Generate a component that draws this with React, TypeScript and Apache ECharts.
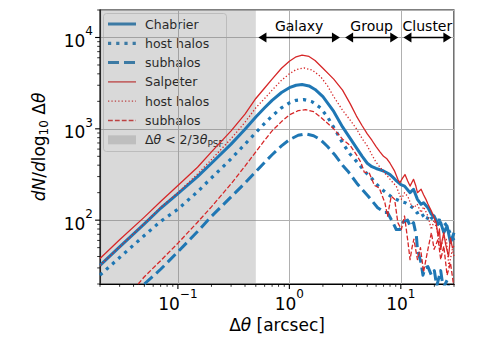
import React, { useEffect, useRef } from 'react';
import * as echarts from 'echarts';

// ---------- data (theta [arcsec], dN/dlog10 dtheta) ----------
const chabrierTotal: [number, number][] = [
  [0.02, 32], [0.03, 51], [0.05, 91], [0.07, 135], [0.1, 195], [0.15, 300], [0.2, 420], [0.3, 680],
  [0.4, 990], [0.5, 1350], [0.6, 1700], [0.7, 2050], [0.85, 2500], [1.0, 2820], [1.15, 3000], [1.3, 3050],
  [1.5, 2950], [1.7, 2700], [2.0, 2250], [2.5, 1550], [3.0, 1050], [3.5, 790], [4.0, 620], [4.5, 500],
  [5.0, 420], [5.5, 385], [6.0, 368], [6.5, 356], [7.0, 345], [7.5, 330], [8.0, 315], [8.6, 290],
  [9.2, 267], [10.0, 245], [10.8, 236], [11.5, 215], [12.1, 200], [13.0, 218], [14.1, 169], [15.2, 149],
  [16.0, 155], [17.5, 137], [18.8, 116], [19.9, 111], [21.6, 90], [22.8, 94], [24.3, 73], [26.0, 86],
  [27.9, 57], [30, 73],
];
const chabrierHost: [number, number][] = [
  [0.02, 25], [0.03, 39], [0.05, 68], [0.07, 97], [0.1, 132], [0.15, 205], [0.2, 290], [0.3, 470],
  [0.4, 680], [0.5, 910], [0.6, 1150], [0.7, 1380], [0.85, 1700], [1.0, 1920], [1.15, 2050], [1.35, 2090],
  [1.6, 1980], [1.9, 1700], [2.2, 1350], [2.6, 960], [3.0, 700], [3.5, 530], [4.0, 440], [4.5, 370],
  [5.0, 320], [5.5, 285], [6.0, 250], [7.0, 210], [8.0, 185], [9.0, 170], [10.0, 160], [11.0, 155],
  [12.0, 145], [13.0, 135], [14.0, 120], [15.0, 125], [16.0, 110], [17.0, 100], [18.0, 115], [19.0, 105],
  [20.0, 100], [22.0, 100], [24.0, 98], [26.0, 85], [28.0, 70], [30, 60],
];
const chabrierSub: [number, number][] = [
  [0.05, 20], [0.07, 29], [0.1, 45], [0.15, 75], [0.2, 110], [0.3, 180], [0.4, 255], [0.5, 340],
  [0.6, 430], [0.7, 520], [0.85, 650], [1.0, 760], [1.2, 850], [1.4, 882], [1.65, 840], [1.9, 760],
  [2.2, 640], [2.54, 524], [3.0, 400], [3.35, 344], [4.1, 247], [5.1, 183], [6.2, 137], [7.17, 121],
  [7.6, 121], [8.5, 94], [9.1, 79], [9.8, 79], [10.5, 95], [11.5, 100], [12.2, 85], [13.0, 94],
  [13.8, 67], [14.1, 48], [15.2, 34], [15.8, 25], [16.5, 30], [17.5, 31], [18.8, 25], [20.0, 28],
  [21.0, 19], [22.8, 28], [24.0, 18], [26.0, 22], [28.0, 15], [30, 17],
];
const salpeterTotal: [number, number][] = [
  [0.02, 38], [0.03, 61], [0.05, 108], [0.07, 160], [0.1, 240], [0.15, 380], [0.2, 560], [0.3, 950],
  [0.4, 1450], [0.5, 2150], [0.6, 2800], [0.7, 3500], [0.85, 4600], [1.0, 5500], [1.15, 6150], [1.3, 6400],
  [1.5, 6200], [1.7, 5600], [2.0, 4600], [2.5, 3500], [3.0, 2650], [3.5, 1900], [4.0, 1380], [4.5, 1080],
  [5.0, 880], [5.5, 750], [6.0, 640], [6.5, 560], [7.0, 500], [7.5, 470], [8.0, 420], [8.8, 344],
  [9.4, 280], [9.8, 257], [10.4, 290], [10.9, 316], [11.5, 270], [12.1, 236], [13.0, 280], [13.6, 240],
  [14.1, 200], [15.2, 218], [16.0, 190], [16.8, 169], [17.5, 150], [18.8, 126], [19.9, 106], [20.7, 95],
  [21.6, 67], [22.2, 80], [22.8, 48], [23.5, 60], [24.3, 73], [25.2, 55], [26.8, 40], [27.9, 64],
  [29.0, 50], [30, 52],
];
const salpeterHost: [number, number][] = [
  [0.02, 32], [0.03, 51], [0.05, 92], [0.07, 138], [0.1, 200], [0.15, 320], [0.2, 460], [0.3, 780],
  [0.4, 1180], [0.5, 1700], [0.6, 2150], [0.7, 2650], [0.85, 3400], [1.0, 4000], [1.15, 4450], [1.35, 4640],
  [1.6, 4400], [1.9, 3750], [2.2, 2950], [2.5, 2250], [3.0, 1600], [3.5, 1250], [4.0, 1000], [4.5, 780],
  [5.0, 650], [5.5, 520], [6.0, 430], [7.0, 340], [7.6, 303], [8.2, 270], [9.1, 236], [10.1, 169],
  [10.8, 200], [11.6, 180], [12.3, 150], [13.1, 137], [14.0, 150], [15.2, 121], [16.0, 140], [17.5, 111],
  [18.8, 79], [19.9, 100], [21.0, 80], [22.8, 48], [24.0, 65], [25.6, 62], [27.0, 31], [29.0, 48], [30, 40],
];
const salpeterSub: [number, number][] = [
  [0.044, 20], [0.05, 24], [0.07, 36], [0.1, 56], [0.15, 95], [0.2, 140], [0.3, 250], [0.4, 390],
  [0.5, 560], [0.6, 750], [0.7, 950], [0.85, 1200], [1.0, 1420], [1.2, 1580], [1.4, 1625], [1.65, 1540],
  [1.9, 1350], [2.2, 1150], [2.5, 1000], [3.0, 770], [3.5, 660], [4.0, 520], [4.4, 425], [4.7, 335],
  [5.2, 330], [5.8, 240], [6.4, 225], [7.2, 155], [7.6, 111], [8.2, 183], [8.8, 169], [9.4, 94],
  [10.1, 79], [10.8, 111], [11.6, 57], [12.1, 37], [12.6, 50], [13.1, 62], [14.1, 37], [15.0, 50],
  [16.0, 27], [17.5, 48], [18.8, 73], [19.9, 48], [21.6, 62], [22.8, 37], [24.3, 52], [26.0, 25],
  [27.9, 34], [30, 18],
];

// shaded PSF region and the scale annotations
const psfRegion: [number, number] = [0.02, 0.5];
const regionNames = ['Galaxy', 'Group', 'Cluster'];
const regionFrom = [0.5, 3, 10];
const regionTo = [3, 10, 30];
const regionLevel = 10000;

const legendLabels = ['Chabrier', 'host halos', 'subhalos', 'Salpeter', 'host halos', 'subhalos'];

const X_MIN = 0.02;
const X_MAX = 30;
const Y_MIN = 20;
const Y_MAX = 20000;

const FONT = 'DejaVu Sans';
const BLUE = '#1f77b4';
const RED = '#d62728';

function logTicks(min: number, max: number): number[] {
  const out: number[] = [];
  for (let e = Math.floor(Math.log10(min)); e <= Math.ceil(Math.log10(max)); e++) {
    for (let k = 1; k <= 9; k++) {
      const v = k * Math.pow(10, e);
      if (v >= min * 0.9999 && v <= max * 1.0001) out.push(v);
    }
  }
  return out;
}
const isMajor = (v: number) => Math.abs(Math.log10(v) - Math.round(Math.log10(v))) < 1e-6;

const supRich = {
  b: { fontSize: 17, lineHeight: 24, verticalAlign: 'bottom', fontFamily: FONT, color: '#000' },
  e: { fontSize: 12, lineHeight: 12, verticalAlign: 'top', fontFamily: FONT, color: '#000' },
};
const tickFormatter = (v: number) => {
  if (!isMajor(v)) return '';
  const e = Math.round(Math.log10(v));
  return `{b|10}{e|${e < 0 ? '\u2212' + -e : e}}`;
};

const seriesStyles = [
  { name: 'Chabrier', data: chabrierTotal, color: BLUE, width: 3, type: 'solid' as any },
  { name: 'Chabrier host', data: chabrierHost, color: BLUE, width: 3.2, type: [3.2, 5] as any },
  { name: 'Chabrier sub', data: chabrierSub, color: BLUE, width: 3, type: [11, 5] as any },
  { name: 'Salpeter', data: salpeterTotal, color: RED, width: 1.3, type: 'solid' as any },
  { name: 'Salpeter host', data: salpeterHost, color: RED, width: 1.3, type: [1.3, 2.1] as any },
  { name: 'Salpeter sub', data: salpeterSub, color: RED, width: 1.3, type: [4.8, 2.1] as any },
];

export default function App() {
  const ref = useRef<HTMLDivElement>(null);
  useEffect(() => {
    if (!ref.current) return;
    const chart = echarts.init(ref.current, null, { renderer: 'svg' });

    const xt = logTicks(X_MIN, X_MAX);
    const yt = logTicks(Y_MIN, Y_MAX);

    // legend (drawn as graphic)
    const lx0 = 108, lx1 = 136, ltx = 145, ly0 = 24, lstep = 19.3;
    const legendChildren: any[] = [
      {
        type: 'rect',
        shape: { x: 103.5, y: 13.5, width: 123, height: 138, r: 3 },
        style: { fill: 'rgba(255,255,255,0.8)', stroke: 'rgba(204,204,204,0.8)', lineWidth: 1 },
      },
    ];
    seriesStyles.forEach((s, i) => {
      const y = ly0 + i * lstep;
      legendChildren.push({
        type: 'line',
        shape: { x1: lx0, y1: y, x2: lx1, y2: y },
        style: { stroke: s.color, lineWidth: s.width, lineDash: s.type === 'solid' ? null : s.type, lineCap: 'butt' },
      });
      legendChildren.push({
        type: 'text',
        style: { text: legendLabels[i], x: ltx, y, verticalAlign: 'middle', fontSize: 12.5, fontFamily: FONT, fill: '#000' },
      });
    });
    const yl = ly0 + 6 * lstep;
    legendChildren.push({
      type: 'rect',
      shape: { x: lx0, y: yl - 4.5, width: lx1 - lx0, height: 9 },
      style: { fill: 'rgba(128,128,128,0.3)' },
    });
    legendChildren.push({
      type: 'text',
      style: {
        text: '{n|\u0394}{i|\u03b8}{n| < 2/3}{i|\u03b8}{s|PSF}',
        x: ltx,
        y: yl,
        verticalAlign: 'middle',
        rich: {
          n: { fontSize: 12.5, fontFamily: FONT, lineHeight: 18, verticalAlign: 'middle', fill: '#000' },
          i: { fontSize: 12.5, fontFamily: FONT, fontStyle: 'italic', lineHeight: 18, verticalAlign: 'middle', fill: '#000' },
          s: { fontSize: 9, fontFamily: FONT, lineHeight: 9, verticalAlign: 'bottom', fill: '#000' },
        },
      },
    });

    const option: any = {
      animation: false,
      grid: { left: 100, right: 24, top: 10, bottom: 58, show: true, borderColor: '#000', borderWidth: 1.1, backgroundColor: 'transparent' },
      xAxis: {
        type: 'log',
        logBase: 10,
        min: X_MIN,
        max: X_MAX,
        axisLine: { show: true, lineStyle: { color: '#000', width: 1.1 } },
        axisTick: { show: false },
        splitLine: { show: true, lineStyle: { color: '#b0b0b0', width: 1 } },
        axisLabel: { formatter: tickFormatter, rich: supRich, margin: 4, showMinLabel: false, showMaxLabel: false },
        name: '{n|\u0394}{i|\u03b8}{n| [arcsec]}',
        nameLocation: 'middle',
        nameGap: 29,
        nameTextStyle: {
          rich: {
            n: { fontSize: 17, fontFamily: FONT, color: '#000', lineHeight: 20 },
            i: { fontSize: 17, fontFamily: FONT, fontStyle: 'italic', color: '#000', lineHeight: 20 },
          },
        },
      },
      yAxis: {
        type: 'log',
        logBase: 10,
        min: Y_MIN,
        max: Y_MAX,
        axisLine: { show: true, lineStyle: { color: '#000', width: 1.1 } },
        axisTick: { show: false },
        splitLine: { show: true, lineStyle: { color: '#b0b0b0', width: 1 } },
        axisLabel: { formatter: tickFormatter, rich: supRich, margin: 7, showMinLabel: false, showMaxLabel: false },
        name: '{i|dN}{n|/}{i|d}{n|log}{s|10}{n| \u0394}{i|\u03b8}',
        nameLocation: 'middle',
        nameGap: 50,
        nameRotate: 90,
        nameTextStyle: {
          rich: {
            n: { fontSize: 17, fontFamily: FONT, color: '#000', lineHeight: 22, verticalAlign: 'middle' },
            i: { fontSize: 17, fontFamily: FONT, fontStyle: 'italic', color: '#000', lineHeight: 22, verticalAlign: 'middle' },
            s: { fontSize: 12, fontFamily: FONT, color: '#000', lineHeight: 12, verticalAlign: 'bottom' },
          },
        },
      },
      graphic: [{ type: 'group', z: 100, children: legendChildren }],
      series: [
        ...seriesStyles.map((s, i) => ({
          type: 'line',
          name: s.name,
          data: s.data,
          showSymbol: false,
          symbol: 'none',
          clip: true,
          z: 2 + i * 0.01,
          lineStyle: { color: s.color, width: s.width, type: s.type, cap: 'butt', join: 'round' },
          ...(i === 0
            ? {
                markArea: {
                  silent: true,
                  itemStyle: { color: 'rgba(128,128,128,0.3)' },
                  data: [[{ xAxis: psfRegion[0] }, { xAxis: psfRegion[1] }]],
                },
              }
            : {}),
        })),
        {
          type: 'custom',
          name: 'regions',
          silent: true,
          clip: false,
          z: 5,
          data: regionNames.map((n, i) => ({ name: n, value: [regionFrom[i], regionLevel, regionTo[i]] })),
          renderItem: (params: any, api: any) => {
            const a = api.coord([api.value(0), api.value(1)]);
            const b = api.coord([api.value(2), api.value(1)]);
            const shrink = 2.6;
            const x1 = a[0] + shrink, x2 = b[0] - shrink, y = a[1];
            const L = 8, W = 5;
            return {
              type: 'group',
              children: [
                { type: 'line', shape: { x1: x1 + L - 1, y1: y, x2: x2 - L + 1, y2: y }, style: { stroke: '#000', lineWidth: 1.3 } },
                { type: 'polygon', shape: { points: [[x1, y], [x1 + L, y - W], [x1 + L, y + W]] }, style: { fill: '#000' } },
                { type: 'polygon', shape: { points: [[x2, y], [x2 - L, y - W], [x2 - L, y + W]] }, style: { fill: '#000' } },
                {
                  type: 'text',
                  style: { text: regionNames[params.dataIndex], x: (x1 + x2) / 2, y: y - 11, align: 'center', verticalAlign: 'middle', fontSize: 14, fontFamily: FONT, fill: '#000' },
                },
              ],
            };
          },
        },
        {
          type: 'custom',
          name: 'xticks',
          silent: true,
          clip: false,
          z: 6,
          data: xt.map((v) => [v, 1000]),
          renderItem: (params: any, api: any) => {
            const v = api.value(0);
            const p = api.coord([v, 1000]);
            const cs = params.coordSys;
            const y0 = cs.y + cs.height;
            const major = isMajor(v);
            const len = major ? 4.9 : 2.8;
            return { type: 'line', shape: { x1: p[0], y1: y0, x2: p[0], y2: y0 + len }, style: { stroke: '#000', lineWidth: major ? 1.1 : 0.8 } };
          },
        },
        {
          type: 'custom',
          name: 'yticks',
          silent: true,
          clip: false,
          z: 6,
          data: yt.map((v) => [1, v]),
          renderItem: (params: any, api: any) => {
            const v = api.value(1);
            const p = api.coord([1, v]);
            const cs = params.coordSys;
            const x0 = cs.x;
            const major = isMajor(v);
            const len = major ? 4.9 : 2.8;
            return { type: 'line', shape: { x1: x0 - len, y1: p[1], x2: x0, y2: p[1] }, style: { stroke: '#000', lineWidth: major ? 1.1 : 0.8 } };
          },
        },
      ],
    };
    chart.setOption(option);
    return () => chart.dispose();
  }, []);
  return <div ref={ref} style={{ width: 478, height: 342, position: 'absolute', left: 0, top: 0 }} />;
}
